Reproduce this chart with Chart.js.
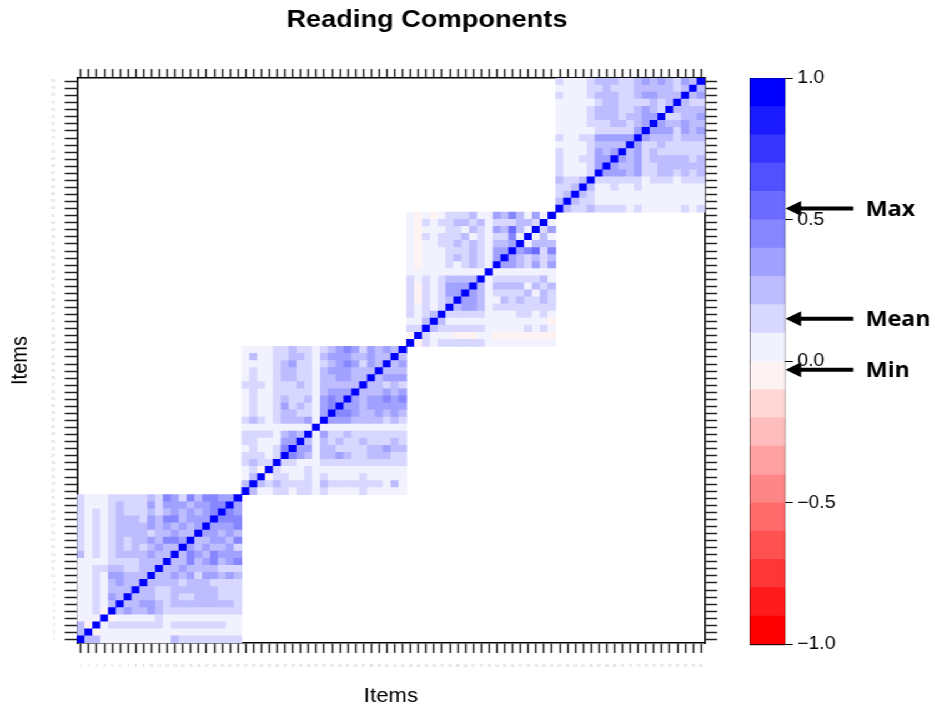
<!DOCTYPE html>
<html>
<head>
<meta charset="utf-8">
<script src="https://cdn.jsdelivr.net/npm/chart.js@4.4.1/dist/chart.umd.min.js"></script>
<style>
html,body{margin:0;padding:0;background:#fff;overflow:hidden;width:935px;height:713px;}
#wrap{position:absolute;left:0;top:0;width:842px;height:713px;transform:scaleX(1.1105);transform-origin:0 0;}
#main{position:absolute;left:0;top:0;}
#bar{position:absolute;left:640px;top:0;}
</style>
</head>
<body>
<div id="wrap">
<canvas id="main" width="769" height="713"></canvas>
<canvas id="bar" width="202" height="713"></canvas>
</div>
<script>
// ---------------- data ----------------
const chartTitle = "Reading Components";
const axisTitle = "Items";
const blockSizes = [21, 21, 19, 19];
const itemLabels = Array.from({length: 80}, (_, i) => String(i + 1));

// lower triangles of each block: row i (from the bottom, i>=1) holds r(i, j) for j = 0..i-1
const block1 = [
  [.24],
  [.24,-.03],
  [.06,.06,.06],
  [.06,.06,.15,-.03],
  [.06,.06,.15,.06,.24],
  [.06,.06,.15,.06,.34,.24],
  [.06,.06,.15,.06,.24,.24,.24],
  [.06,.06,.15,.06,.24,.34,.24,.24],
  [.06,.06,.15,.06,.34,.34,.24,.24,.24],
  [.06,.06,.15,.15,.24,.24,.15,.15,.24,.24],
  [.06,.06,.06,.06,.15,.15,.15,.15,.24,.24,.24],
  [.24,.06,.15,.06,.15,.24,.24,.24,.24,.34,.24,.24],
  [.15,.06,.15,.06,.15,.24,.15,.24,.15,.24,.34,.24,.24],
  [.15,.06,.15,.06,.15,.24,.15,.24,.24,.34,.24,.44,.44,.34],
  [.15,.06,.15,.06,.15,.24,.24,.24,.24,.15,.24,.24,.34,.24,.24],
  [.15,.06,.15,.06,.15,.24,.24,.24,.24,.34,.24,.34,.24,.34,.24,.34],
  [.15,.06,.15,.06,.15,.24,.24,.24,.15,.34,.24,.44,.44,.24,.34,.34,.34],
  [.15,.06,.15,.06,.15,.24,.15,.15,.15,.24,.15,.24,.34,.24,.34,.24,.34,.44],
  [.15,.06,.06,.06,.15,.24,.15,.15,.15,.34,.15,.34,.34,.34,.24,.34,.34,.44,.44],
  [.15,.06,.06,.06,.15,.15,.15,.15,.15,.24,.15,.44,.34,.15,.44,.24,.44,.44,.34,.34]
];
const block2 = [
  [.24],
  [.06,.24],
  [.06,.15,-.03],
  [.15,.24,.15,.15],
  [.15,.15,.15,.06,.15],
  [.06,.15,.06,.06,.15,.44],
  [.15,.15,.06,.06,.06,.34,.34],
  [.15,.15,.15,.15,.06,.24,.34,.24],
  [.06,.06,.06,.06,.06,.06,.06,.06,.06],
  [.15,.24,.15,.06,.15,.24,.24,.24,.34,.06],
  [.06,.15,.06,.06,.15,.24,.24,.15,.15,.06,.34],
  [.06,.15,.06,.06,.15,.34,.15,.24,.15,.06,.34,.44],
  [.06,.15,.06,.06,.15,.24,.15,.15,.24,.06,.34,.44,.34],
  [.06,.15,.06,.06,.15,.15,.15,.15,.15,.06,.24,.34,.34,.34],
  [.15,.15,.15,.06,.15,.15,.15,.24,.15,.06,.24,.24,.24,.24,.24],
  [.06,.15,.06,.06,.15,.24,.24,.15,.15,.06,.24,.24,.34,.34,.24,.24],
  [.06,.15,.06,.06,.15,.24,.24,.15,.15,.06,.24,.34,.34,.34,.24,.24,.24],
  [.06,.06,.06,.06,.15,.24,.34,.15,.15,.06,.15,.24,.34,.44,.34,.15,.34,.24],
  [.06,.24,.06,.06,.15,.15,.24,.24,.15,.06,.24,.34,.34,.34,.24,.24,.34,.24,.24],
  [.06,.06,.06,.06,.15,.15,.24,.15,.15,.06,.15,.24,.34,.44,.34,.15,.34,.24,.34,.24]
];
const block3 = [
  [-.03],
  [.15,.15],
  [.06,.06,.24],
  [.15,.06,.15,.24],
  [.15,.06,.15,.06,.15],
  [.15,-.03,.15,.06,.15,.24],
  [.15,-.03,.15,.06,.15,.34,.34],
  [.15,-.03,.15,.06,.15,.34,.34,.34],
  [.15,.06,.15,.06,.15,.24,.24,.24,.24],
  [.06,.06,.06,.06,.06,.06,.06,.06,.06,.06],
  [.06,-.03,.06,.06,.06,.15,.06,.15,.24,.15,.06],
  [.06,-.03,.06,.06,.06,.15,.24,.15,.24,.15,.06,.34],
  [.06,-.03,.06,.06,.06,.15,.15,.15,.24,.15,.06,.34,.34],
  [.06,-.03,.06,.06,.15,.15,.24,.15,.24,.15,.06,.24,.24,.34],
  [.06,-.03,.15,.06,.15,.15,.15,.24,.06,.15,.06,.15,.15,.44,.06],
  [.06,-.03,.06,.06,.06,.15,.15,.06,.24,.15,.06,.34,.24,.53,.24,.06],
  [.06,-.03,.15,.06,.15,.15,.24,.24,.15,.24,.06,.15,.15,.15,.24,.24,.15],
  [.06,-.03,.06,-.03,.06,.15,.15,.15,.24,.06,.06,.34,.24,.44,.24,.06,.34,.06]
];
const block4 = [
  [.24],
  [.15,.24],
  [.15,.15,.24],
  [.24,.15,.15,.24],
  [.15,.06,.06,.06,.15],
  [.15,.06,.06,.06,.15,.34],
  [.15,.06,.06,.15,.15,.34,.34],
  [.15,.06,.06,.06,.15,.34,.24,.34],
  [.06,.06,.06,.06,.15,.24,.24,.24,.24],
  [.15,.06,.06,.15,.15,.34,.34,.34,.34,.34],
  [.06,.06,.06,.06,.06,.15,.15,.15,.15,.15,.34],
  [.06,.06,.06,.06,.15,.15,.15,.24,.24,.15,.24,.34],
  [.06,.06,.06,.06,.15,.24,.24,.24,.15,.24,.24,.34,.34],
  [.06,.06,.06,.06,.15,.24,.24,.24,.15,.15,.24,.34,.24,.15],
  [.06,.06,.06,.06,.06,.15,.24,.24,.15,.15,.15,.15,.24,.15,.24],
  [.15,.06,.06,.06,.15,.24,.24,.24,.15,.15,.24,.34,.34,.24,.24,.24],
  [.06,.06,.06,.06,.15,.15,.24,.15,.15,.15,.24,.24,.24,.24,.24,.15,.24],
  [.15,.06,.06,.06,.15,.24,.24,.24,.15,.15,.24,.34,.24,.34,.24,.15,.34,.24]
];

const colorBreaks = [-1,-0.9,-0.8,-0.7,-0.6,-0.5,-0.4,-0.3,-0.2,-0.1,0,0.1,0.2,0.3,0.4,0.5,0.6,0.7,0.8,0.9,1];
const colorbarTicks = [-1, -0.5, 0, 0.5, 1];
const markerLabels = ["Max", "Mean", "Min"];
const markerValues = [0.54, 0.15, -0.03];

// ---------------- helpers ----------------
Chart.defaults.font.family = '"Liberation Sans", Arial, Helvetica, sans-serif';
Chart.defaults.color = '#000';

function binColor(v) {
  let idx = Math.floor((v + 1) * 10 + 1e-9);
  idx = Math.max(0, Math.min(19, idx));
  const t = idx / 19;
  let r, g, b;
  if (t < 0.5) { r = 255; g = b = Math.round(510 * t); }
  else { r = g = Math.round(255 * (2 - 2 * t)); b = 255; }
  return 'rgb(' + r + ',' + g + ',' + b + ')';
}

const N = itemLabels.length;
const M = Array.from({length: N}, () => Array(N).fill(null));
let off = 0;
[block1, block2, block3, block4].forEach((tri, b) => {
  const n = blockSizes[b];
  for (let i = 0; i < n; i++) M[off + i][off + i] = 1;
  tri.forEach((row, k) => {
    const i = k + 1;
    row.forEach((v, j) => { M[off + i][off + j] = v; M[off + j][off + i] = v; });
  });
  off += n;
});

// one floating-bar dataset per row
const heatDatasets = itemLabels.map((_, r) => ({
  data: itemLabels.map((_, c) => M[c][r] === null ? null : [r, r + 1]),
  backgroundColor: itemLabels.map((_, c) => M[c][r] === null ? 'rgba(0,0,0,0)' : binColor(M[c][r])),
  borderWidth: 0,
  grouped: false,
  barPercentage: 1,
  categoryPercentage: 1
}));

const frame = {display: true, color: '#000', width: 1.6};
const tickGrid = (len) => ({drawOnChartArea: false, drawTicks: true, tickLength: len, tickColor: '#222', tickWidth: 1.5, offset: false});
const halfTicks = (s) => { s.ticks = itemLabels.map((_, i) => ({value: i + 0.5})); };

new Chart(document.getElementById('main'), {
  type: 'bar',
  data: {labels: itemLabels, datasets: heatDatasets},
  options: {
    responsive: false, animation: false, devicePixelRatio: 1, events: [],
    layout: {padding: 0},
    plugins: {
      legend: {display: false},
      tooltip: {enabled: false},
      title: {display: true, text: chartTitle, color: '#000',
        font: {size: 24.5, weight: 'bold'}, padding: {top: 5.7, bottom: 0}}
    },
    scales: {
      x: {
        type: 'category', position: 'bottom', offset: true,
        grid: tickGrid(10), border: frame,
        ticks: {autoSkip: false, maxRotation: 0, minRotation: 0, font: {size: 3}, color: '#bdbdbd', padding: 11},
        title: {display: true, text: axisTitle, color: '#000', font: {size: 20}, padding: {top: 0, bottom: 5}},
        afterFit: s => { s.height = 70; }
      },
      x2: {
        type: 'category', position: 'top', offset: true, labels: itemLabels,
        grid: tickGrid(9), border: frame,
        ticks: {display: false},
        afterFit: s => { s.height = 42.9; }
      },
      y: {
        type: 'linear', position: 'left', min: 0, max: N,
        afterBuildTicks: halfTicks,
        grid: tickGrid(11), border: frame,
        ticks: {autoSkip: false, callback: (v, i) => itemLabels[i], font: {size: 3}, color: '#bdbdbd', padding: 9},
        title: {display: true, text: axisTitle, color: '#000', font: {size: 20}, padding: {top: 6}},
        afterFit: s => { s.width = 69.3; }
      },
      y2: {
        type: 'linear', position: 'right', min: 0, max: N,
        afterBuildTicks: halfTicks,
        grid: tickGrid(11), border: frame,
        ticks: {display: false},
        afterFit: s => { s.width = 134.2; }
      }
    }
  }
});

// ---------------- colour key ----------------
const keyDatasets = colorBreaks.slice(0, -1).map((lo, k) => ({
  data: [[lo, colorBreaks[k + 1]]],
  backgroundColor: binColor((lo + colorBreaks[k + 1]) / 2),
  borderWidth: 0, grouped: false, barPercentage: 1, categoryPercentage: 1
}));

const fmt = v => v.toFixed(1).replace('-', '\u2212');
const thin = {display: true, color: '#000', width: 1.2};

const arrowPlugin = {
  id: 'arrows',
  afterDraw(chart) {
    const {ctx, chartArea, scales} = chart;
    const y = scales.y;
    markerValues.forEach((v, k) => {
      const py = y.getPixelForValue(v);
      const tip = chartArea.right + 0.5;
      ctx.save();
      ctx.fillStyle = '#000';
      ctx.strokeStyle = '#000';
      ctx.lineWidth = 4;
      ctx.beginPath(); ctx.moveTo(tip + 10, py); ctx.lineTo(tip + 61, py); ctx.stroke();
      ctx.beginPath(); ctx.moveTo(tip, py); ctx.lineTo(tip + 14, py - 7.5); ctx.lineTo(tip + 14, py + 7.5); ctx.closePath(); ctx.fill();
      ctx.font = 'bold 21px "Open Sans", "Noto Sans", sans-serif';
      ctx.textBaseline = 'middle';
      ctx.textAlign = 'left';
      ctx.fillText(markerLabels[k], tip + 72, py + 1.5);
      ctx.restore();
    });
  }
};

new Chart(document.getElementById('bar'), {
  type: 'bar',
  data: {labels: [''], datasets: keyDatasets},
  options: {
    responsive: false, animation: false, devicePixelRatio: 1, events: [],
    layout: {padding: 0},
    plugins: {legend: {display: false}, tooltip: {enabled: false}, title: {display: false}},
    scales: {
      x: {type: 'category', position: 'bottom', offset: true,
        grid: {display: false}, ticks: {display: false}, border: thin,
        afterFit: s => { s.height = 68.7; }},
      xt: {type: 'category', position: 'top', offset: true, labels: [''],
        grid: {display: false}, ticks: {display: false}, border: thin,
        afterFit: s => { s.height = 78.3; }},
      y: {type: 'linear', position: 'right', min: -1, max: 1,
        afterBuildTicks: s => { s.ticks = colorbarTicks.map(v => ({value: v})); },
        grid: {drawOnChartArea: false, drawTicks: true, tickLength: 7, tickColor: '#000', tickWidth: 1},
        border: thin,
        ticks: {callback: v => fmt(v), font: {size: 17.5}, color: '#000', padding: 4},
        afterFit: s => { s.width = 135.1; }},
      yl: {type: 'linear', position: 'left', min: -1, max: 1,
        grid: {display: false}, ticks: {display: false}, border: thin,
        afterFit: s => { s.width = 35.4; }}
    }
  },
  plugins: [arrowPlugin]
});
</script>
</body>
</html>
